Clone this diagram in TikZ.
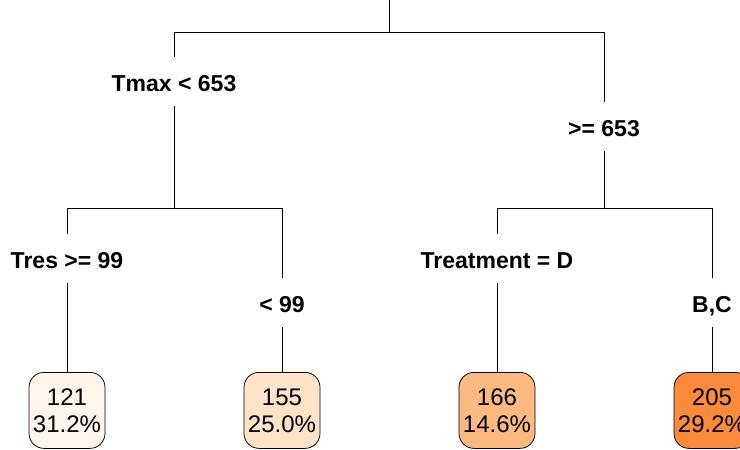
\documentclass[tikz,border=0pt]{standalone}
\usepackage{fontspec}
\setmainfont{Liberation Sans}
\usetikzlibrary{positioning}
\definecolor{leafa}{HTML}{FFF5EB}
\definecolor{leafb}{HTML}{FEE3C9}
\definecolor{leafc}{HTML}{FDBA80}
\definecolor{leafd}{HTML}{F98B3B}

\begin{document}
\begin{tikzpicture}[x=1pt,y=-1pt,line width=0.75pt,
  splitlab/.style={font=\bfseries\fontsize{23}{27}\selectfont,inner sep=0pt,
    anchor=base,text height=34pt,text depth=15pt},
  leaf/.style={draw,rounded corners=15pt,minimum width=76pt,minimum height=76pt,
    inner sep=0pt,align=center,font=\fontsize{24}{27}\selectfont,anchor=north}]

  \useasboundingbox (0,0) rectangle (740,450);

  % first split
  \coordinate (root) at (389,0);
  \coordinate (bar0) at (389,32);
  \coordinate (bar0l) at (174,32);
  \coordinate (bar0r) at (604,32);

  \node[splitlab] (tmax) at (174,91) {Tmax < 653};
  \node[splitlab] (tmaxr) at (604,136) {>= 653};

  \draw (root) -- (bar0) (bar0l) -- (bar0r);
  \draw (bar0l) -- (tmax.north) (bar0r) -- (tmaxr.north);

  % second level bars
  \coordinate (bar1) at (174,208);
  \coordinate (bar1l) at (67,208);
  \coordinate (bar1r) at (282,208);
  \coordinate (bar2) at (604,208);
  \coordinate (bar2l) at (497,208);
  \coordinate (bar2r) at (712,208);

  \draw (tmax.south) -- (bar1) (tmaxr.south) -- (bar2);
  \draw (bar1l) -- (bar1r) (bar2l) -- (bar2r);

  \node[splitlab] (tres) at (67,268) {Tres >= 99};
  \node[splitlab] (tresr) at (282,312) {< 99};
  \node[splitlab] (treat) at (497,268) {Treatment = D};
  \node[splitlab] (treatr) at (712,312) {B,C};

  \draw (bar1l) -- (tres.north) (bar1r) -- (tresr.north)
  (bar2l) -- (treat.north) (bar2r) -- (treatr.north);

  % leaves
  \node[leaf,fill=leafa] (leaf1) at (67,372) {121\\31.2\%};
  \node[leaf,fill=leafb] (leaf2) at (282,372) {155\\25.0\%};
  \node[leaf,fill=leafc] (leaf3) at (497,372) {166\\14.6\%};
  \node[leaf,fill=leafd] (leaf4) at (712,372) {205\\29.2\%};

  \draw (tres.south) -- (leaf1.north) (tresr.south) -- (leaf2.north)
  (treat.south) -- (leaf3.north) (treatr.south) -- (leaf4.north);

\end{tikzpicture}
\end{document}
